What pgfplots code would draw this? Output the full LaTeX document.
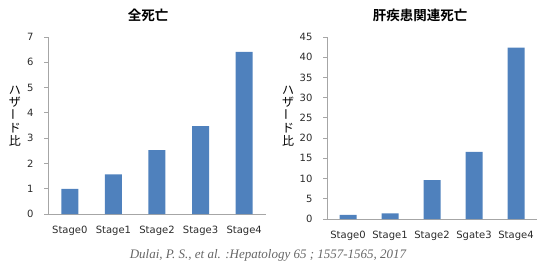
\documentclass[border=0pt]{standalone}
\usepackage{pgfplots}
\pgfplotsset{compat=1.18}
\usepackage{graphicx}
\usepackage{fontspec}
\setmainfont{DejaVu Sans}
\newfontfamily\cjk{Noto Sans CJK JP}[BoldFont={* Bold}]
\newfontfamily\cjkb{Noto Sans CJK JP}[BoldFont={* Bold}]
\newfontfamily\citefont{Liberation Serif}
\definecolor{barblue}{HTML}{4F81BD}
\definecolor{axgray}{HTML}{A6A6A6}
\definecolor{txt}{HTML}{2B2B2B}
\pgfplotsset{
  myax/.style={
    scale only axis,
    anchor=south west,
    axis x line*=bottom,
    axis y line*=left,
    axis line style={axgray, line width=0.8pt},
    every tick/.style={axgray, line width=0.8pt},
    tick align=outside,
    major tick length=4pt,
    xmin=-0.5, xmax=4.5,
    xtick={0,1,2,3,4},
    extra x ticks={-0.5,0.5,1.5,2.5,3.5,4.5},
    extra x tick labels={},
    extra x tick style={major tick length=4pt},
    ymin=0,
    ticklabel style={font=\fontsize{10}{12}\selectfont, text=txt},
    /pgf/number format/assume math mode=true,
    yticklabel style={xshift=-7pt},
    xticklabel style={yshift=-5pt},
    ybar, bar width=17pt,
  }
}
\begin{document}
\begin{tikzpicture}
\useasboundingbox (0pt,0pt) rectangle (541pt,269pt);
\begin{axis}[myax, at={(48pt,55pt)}, width=218pt, height=177pt,
  ymax=7, ytick={0,1,...,7},
  xticklabels={Stage0,Stage1,Stage2,Stage3,Stage4},
  major x tick style={draw=none}]
\addplot[fill=barblue, draw=none] coordinates {(0,0.99) (1,1.57) (2,2.53) (3,3.48) (4,6.41)};
\end{axis}
\begin{axis}[myax, at={(327pt,50pt)}, width=210pt, height=182pt,
  ymax=45, ytick={0,5,...,45},
  xticklabels={Stage0,Stage1,Stage2,Sgate3,Stage4},
  major x tick style={draw=none}]
\addplot[fill=barblue, draw=none] coordinates {(0,1.0) (1,1.4) (2,9.6) (3,16.6) (4,42.4)};
\end{axis}
\node[font=\cjkb\bfseries\fontsize{13.5}{15}\selectfont] at (148pt,254pt) {全死亡};
\node[font=\cjkb\bfseries\fontsize{13.5}{15}\selectfont] at (420pt,254pt) {肝疾患関連死亡};
\node[font=\cjk\fontsize{12}{12.5}\selectfont, align=center, text=black, inner sep=0pt] at (15pt,153pt) {ハ\\ザ\\\rotatebox{90}{ー}\\ド\\比};
\node[font=\cjk\fontsize{12}{12.5}\selectfont, align=center, text=black, inner sep=0pt] at (288pt,153pt) {ハ\\ザ\\\rotatebox{90}{ー}\\ド\\比};
\node[font=\citefont\itshape\fontsize{13}{15}\selectfont, text=black!60] at (268pt,14pt) {Dulai, P. S., et al. :Hepatology 65 ; 1557-1565, 2017};
\end{tikzpicture}
\end{document}
